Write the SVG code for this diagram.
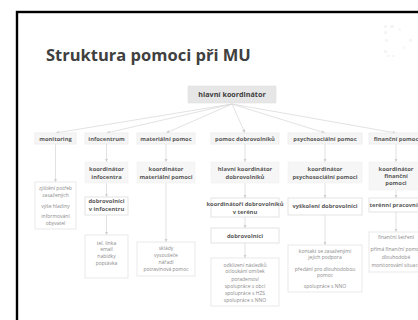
<svg xmlns="http://www.w3.org/2000/svg" width="418" height="320" viewBox="0 0 418 320">
<style>
.frame{fill:#fff;stroke:#000;stroke-width:2.4}
.title{font-family:"Open Sans","Liberation Sans",sans-serif;font-weight:bold;font-size:16.5px;fill:#404040}
.root rect{fill:#e6e6e6;stroke:#e0e0e0;stroke-width:0.6}
.l1 rect{fill:#f5f5f5;stroke:#ebebeb;stroke-width:0.8}
.l2 rect{fill:#f6f6f6;stroke:#f0f0f0;stroke-width:0.6}
.bx rect{fill:#fff;stroke:#dcdcdc;stroke-width:0.8}
.lf rect{fill:#fff;stroke:#e3e3e3;stroke-width:0.8}
text.b{font-family:"Open Sans","Liberation Sans",sans-serif;font-weight:bold;font-size:5.8px;fill:#595959;text-anchor:middle}
text.h{font-family:"Open Sans","Liberation Sans",sans-serif;font-weight:bold;font-size:7.2px;fill:#404040;text-anchor:middle}
text.n{font-family:"Open Sans","Liberation Sans",sans-serif;font-size:5px;fill:#8a8a8a;text-anchor:middle}
#connectors line{stroke:#d6d6d6;stroke-width:0.7;fill:none;marker-end:url(#ar)}
.deco rect{fill:#f5f5f5}
</style>
<defs>
<marker id="ar" viewBox="0 0 6 6" refX="6" refY="3" markerWidth="3.5" markerHeight="3.5" markerUnits="userSpaceOnUse" orient="auto">
<path d="M0,0 L6,3 L0,6 z" fill="#cfcfcf"/>
</marker>
</defs>
<rect x="0" y="0" width="418" height="320" fill="#fff"/>
<rect class="frame" x="17" y="12" width="420" height="330"/>
<g class="deco">
<rect x="384" y="25" width="3" height="3"/><rect x="390" y="25" width="4" height="3"/><rect x="384" y="31" width="3" height="3"/>
<rect x="385" y="39" width="3" height="3"/><rect x="409" y="39" width="3" height="3"/><rect x="384" y="50" width="3" height="3"/>
<rect x="387" y="55" width="3" height="2"/><rect x="392" y="55" width="3" height="2"/><rect x="398" y="28" width="3" height="3" opacity="0.6"/>
<rect x="403" y="46" width="3" height="3" opacity="0.6"/>
</g>
<text class="title" x="46" y="61">Struktura pomoci při MU</text>

<g id="connectors">
<line x1="232" y1="104" x2="55.5" y2="133"/>
<line x1="232" y1="104" x2="106.5" y2="133"/>
<line x1="232" y1="104" x2="166" y2="133"/>
<line x1="232" y1="104" x2="245" y2="133"/>
<line x1="232" y1="104" x2="325" y2="133"/>
<line x1="232" y1="104" x2="396" y2="133"/>
<line x1="55.5" y1="144" x2="55.5" y2="182"/>
<line x1="106.5" y1="144" x2="106.5" y2="162"/>
<line x1="106.5" y1="183" x2="106.5" y2="197"/>
<line x1="106.5" y1="215" x2="106.5" y2="235"/>
<line x1="166" y1="144" x2="166" y2="162"/>
<line x1="166" y1="183" x2="166" y2="242"/>
<line x1="245" y1="144" x2="245" y2="162"/>
<line x1="245" y1="183" x2="245" y2="198"/>
<line x1="245" y1="217" x2="245" y2="228"/>
<line x1="245" y1="243" x2="245" y2="258"/>
<line x1="325" y1="144" x2="325" y2="162"/>
<line x1="325" y1="183" x2="325" y2="198"/>
<line x1="325" y1="215" x2="325" y2="245"/>
<line x1="396" y1="144" x2="396" y2="162"/>
<line x1="396" y1="190" x2="396" y2="198"/>
<line x1="396" y1="212" x2="396" y2="232"/>
</g>

<g id="n-hlavni" class="root"><rect x="188" y="86" width="88" height="17"/><text class="h" x="232" y="96.6">hlavní koordinátor</text></g>

<g id="n-monitoring" class="l1"><rect x="35" y="133" width="41" height="11"/><text class="b" x="55.5" y="140.6">monitoring</text></g>
<g id="n-infocentrum" class="l1"><rect x="85" y="133" width="43" height="11"/><text class="b" x="106.5" y="140.6">infocentrum</text></g>
<g id="n-material" class="l1"><rect x="137" y="133" width="58" height="11"/><text class="b" x="166" y="140.6">materiální pomoc</text></g>
<g id="n-dobrovolniku" class="l1"><rect x="211" y="133" width="68" height="11"/><text class="b" x="245" y="140.6">pomoc dobrovolníků</text></g>
<g id="n-psycho" class="l1"><rect x="288" y="133" width="74" height="11"/><text class="b" x="325" y="140.6">psychosociální pomoc</text></g>
<g id="n-financni" class="l1"><rect x="369" y="133" width="54" height="11"/><text class="b" x="396" y="140.6">finanční pomoc</text></g>

<g id="n-k-info" class="l2"><rect x="85" y="162" width="43" height="21"/><text class="b" x="106.5" y="171.3">koordinátor</text><text class="b" x="106.5" y="178.7">infocentra</text></g>
<g id="n-k-mat" class="l2"><rect x="137" y="162" width="58" height="21"/><text class="b" x="166" y="171.3">koordinátor</text><text class="b" x="166" y="178.7">materiální pomoci</text></g>
<g id="n-k-dobr" class="l2"><rect x="211" y="162" width="68" height="21"/><text class="b" x="245" y="171.3">hlavní koordinátor</text><text class="b" x="245" y="178.7">dobrovolníků</text></g>
<g id="n-k-psy" class="l2"><rect x="288" y="162" width="74" height="21"/><text class="b" x="325" y="171.3">koordinátor</text><text class="b" x="325" y="178.7">psychosociální pomoci</text></g>
<g id="n-k-fin" class="l2"><rect x="369" y="162" width="54" height="28"/><text class="b" x="396" y="171.3">koordinátor</text><text class="b" x="396" y="178.2">finanční</text><text class="b" x="396" y="185.3">pomoci</text></g>

<g id="n-mon-leaf" class="lf"><rect x="35" y="182" width="41" height="47"/>
<text class="n" x="55.5" y="190">zjištění potřeb</text><text class="n" x="55.5" y="196.7">zasažených</text><text class="n" x="55.5" y="207.7">výše hladiny</text><text class="n" x="55.5" y="217.7">informování</text><text class="n" x="55.5" y="224.7">obyvatel</text></g>

<g id="n-dobr-info" class="bx"><rect x="85" y="197" width="43" height="18"/><text class="b" x="106.5" y="203.3">dobrovolníci</text><text class="b" x="106.5" y="210.9">v infocentru</text></g>
<g id="n-info-leaf" class="lf"><rect x="85" y="235" width="43" height="43"/>
<text class="n" x="106.5" y="244.7">tel. linka</text><text class="n" x="106.5" y="251">email</text><text class="n" x="106.5" y="257.7">nabídky</text><text class="n" x="106.5" y="264.7">poptávka</text></g>

<g id="n-mat-leaf" class="lf"><rect x="137" y="242" width="58" height="34"/>
<text class="n" x="166" y="249.7">sklády</text><text class="n" x="166" y="256.7">vysoušeče</text><text class="n" x="166" y="263.7">nářadí</text><text class="n" x="166" y="271.4">potravinová pomoc</text></g>

<g id="n-koord-teren" class="bx"><rect x="211" y="198" width="68" height="19"/><text class="b" x="245" y="206">koordinátoři dobrovolníků</text><text class="b" x="245" y="214.3">v terénu</text></g>
<g id="n-dobrovolnici" class="bx"><rect x="211" y="228" width="68" height="15"/><text class="b" x="245" y="237.6">dobrovolníci</text></g>
<g id="n-dobr-leaf" class="lf"><rect x="211" y="258" width="68" height="48"/>
<text class="n" x="245" y="266.7">odklizení následků</text><text class="n" x="245" y="273.4">otloukání omítek</text><text class="n" x="245" y="280.7">poradenství</text><text class="n" x="245" y="288.4">spolupráce s obcí</text><text class="n" x="245" y="295">spolupráce s HZS</text><text class="n" x="245" y="301.7">spolupráce s NNO</text></g>

<g id="n-vyskoleni" class="bx"><rect x="288" y="198" width="74" height="17"/><text class="b" x="325" y="208">vyškolení dobrovolníci</text></g>
<g id="n-psy-leaf" class="lf"><rect x="288" y="245" width="74" height="47"/>
<text class="n" x="325" y="253.4">kontakt se zasaženými</text><text class="n" x="325" y="259">jejich podpora</text><text class="n" x="325" y="271">předání pro dlouhodobou</text><text class="n" x="325" y="276.7">pomoc</text><text class="n" x="325" y="287.7">spolupráce s NNO</text></g>

<g id="n-terenni" class="bx"><rect x="369" y="198" width="54" height="14"/><text class="b" x="396" y="207">terénní pracovníci</text></g>
<g id="n-fin-leaf" class="lf"><rect x="369" y="232" width="54" height="40"/>
<text class="n" x="396" y="239.4">finanční šetření</text><text class="n" x="396" y="251">přímá finanční pomoc</text><text class="n" x="396" y="259">dlouhodobé</text><text class="n" x="396" y="266.7">monitorování situace</text></g>
</svg>
